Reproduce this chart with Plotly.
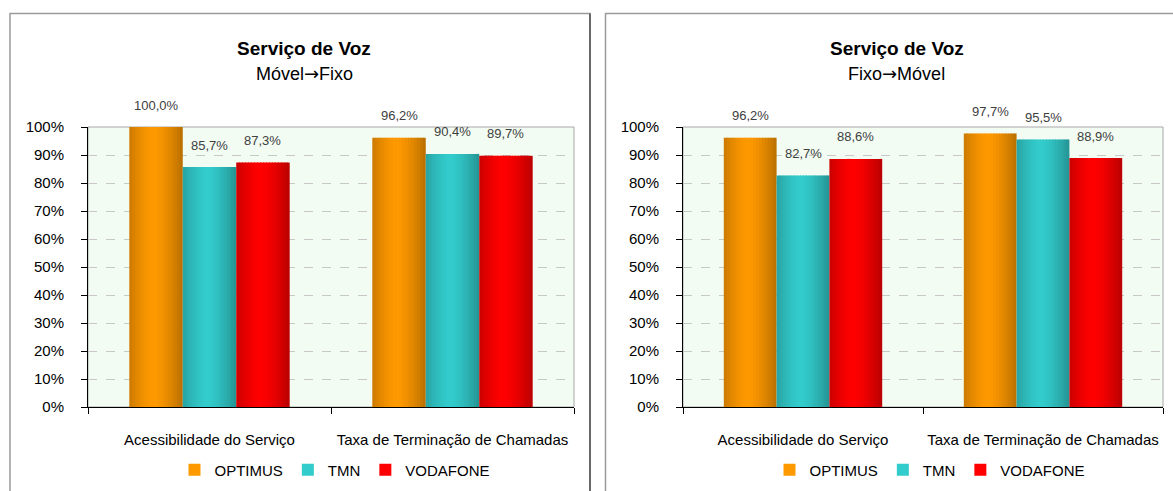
import plotly.graph_objects as go

# ---------------- data ----------------
categories = ["Acessibilidade do Serviço", "Taxa de Terminação de Chamadas"]
series_names = ["OPTIMUS", "TMN", "VODAFONE"]
movel_fixo = {"OPTIMUS": [1.000, 0.962], "TMN": [0.857, 0.904], "VODAFONE": [0.873, 0.897]}
fixo_movel = {"OPTIMUS": [0.962, 0.977], "TMN": [0.827, 0.955], "VODAFONE": [0.886, 0.889]}
titles = ["Serviço de Voz", "Serviço de Voz"]
subtitles = [("Móvel", "→", "Fixo"), ("Fixo", "→", "Móvel")]
y_ticks = [0, 0.1, 0.2, 0.3, 0.4, 0.5, 0.6, 0.7, 0.8, 0.9, 1.0]

# ---------------- style ----------------
W, H = 1173, 491
FONT = "Liberation Sans, Arial, sans-serif"
base_colors = {"OPTIMUS": (255, 153, 0), "TMN": (51, 204, 204), "VODAFONE": (255, 0, 0)}
BAR_W = 0.22
N_STRIPS = 18


def shade(rgb, t):
    d = abs(t - 0.45) / 0.55
    f = 1 - 0.28 * min(1.0, d) ** 1.5
    r, g, b = (int(round(c * f)) for c in rgb)
    return f"rgb({r},{g},{b})"


def px_x(p):
    return p / W


def px_y(p):
    return 1 - p / H


panels = [
    dict(data=movel_fixo, xa="x", ya="y", legend="legend",
         xdom=[px_x(88), px_x(574)], center=px_x(304)),
    dict(data=fixo_movel, xa="x2", ya="y2", legend="legend2",
         xdom=[px_x(683), px_x(1163)], center=px_x(897)),
]
ydom = [px_y(407), px_y(127)]

fig = go.Figure()
annotations = []

for pi, p in enumerate(panels):
    data = p["data"]
    for si, name in enumerate(series_names):
        vals = data[name]
        left = -1.5 * BAR_W + si * BAR_W
        sw = BAR_W / N_STRIPS
        legend_strip = int(N_STRIPS * 0.45)
        for k in range(N_STRIPS):
            t = (k + 0.5) / N_STRIPS
            width = sw * (1.35 if k < N_STRIPS - 1 else 1.0)
            fig.add_trace(go.Bar(
                x=categories, y=vals,
                xaxis=p["xa"], yaxis=p["ya"],
                offset=left + k * sw, width=width,
                marker=dict(color=shade(base_colors[name], t), line=dict(width=0)),
                name=name, legendgroup=f"{name}{pi}",
                showlegend=(k == legend_strip), legend=p["legend"],
                hoverinfo="skip",
            ))
        for ci, v in enumerate(vals):
            annotations.append(dict(
                x=ci + left + BAR_W / 2, y=v, xref=p["xa"], yref=p["ya"],
                text=f"{v*100:.1f}%".replace(".", ","), showarrow=False,
                xanchor="center", yanchor="middle", yshift=22,
                font=dict(family=FONT, size=13, color="#404040"),
            ))
    # titles
    annotations.append(dict(x=p["center"], y=px_y(48), xref="paper", yref="paper",
                            xanchor="center", yanchor="middle",
                            text=f"<b>{titles[pi]}</b>", showarrow=False,
                            font=dict(family=FONT, size=19, color="#000000")))
    a, arrow, b = subtitles[pi]
    annotations.append(dict(x=p["center"], y=px_y(73), xref="paper", yref="paper",
                            xanchor="center", yanchor="middle",
                            text=f"{a}<span style='font-family:DejaVu Sans'>{arrow}</span>{b}",
                            showarrow=False,
                            font=dict(family=FONT, size=18, color="#000000")))

axis_common_x = dict(
    type="category", range=[-0.5, 1.5], tickson="boundaries",
    ticks="outside", ticklen=6, tickcolor="#000000", tickangle=0,
    showline=True, linecolor="#000000", linewidth=1, automargin=False,
    showgrid=False, ticklabelstandoff=19,
    tickfont=dict(family=FONT, size=15, color="#000000"),
)
axis_common_y = dict(
    range=[0, 1], tickvals=y_ticks, tickformat=".0%",
    ticks="outside", ticklen=6, tickcolor="#000000", automargin=False,
    showline=True, linecolor="#000000", linewidth=1,
    showgrid=True, gridcolor="#C8C8C8", griddash="dash", gridwidth=1,
    zeroline=False, ticklabelstandoff=14,
    tickfont=dict(family=FONT, size=15, color="#000000"),
)

shapes = [
    # panel frames
    dict(type="rect", xref="paper", yref="paper", x0=px_x(10), x1=px_x(590),
         y0=px_y(500), y1=px_y(13.5), line=dict(color="#9a9a9a", width=1.5), layer="below"),
    dict(type="line", xref="paper", yref="paper", x0=px_x(590), x1=px_x(590),
         y0=px_y(500), y1=px_y(13.5), line=dict(color="#505050", width=1.5), layer="below"),
    dict(type="rect", xref="paper", yref="paper", x0=px_x(605.5), x1=px_x(1190),
         y0=px_y(500), y1=px_y(13.5), line=dict(color="#9a9a9a", width=1.5), layer="below"),
]
for xa, ya in (("x", "y"), ("x2", "y2")):
    shapes.append(dict(type="rect", xref=f"{xa} domain", yref=f"{ya} domain",
                       x0=0, x1=1, y0=0, y1=1, line=dict(color="#A8A8A8", width=1),
                       fillcolor="rgba(0,0,0,0)", layer="below"))

legend_common = dict(orientation="h", xanchor="center", yanchor="middle", y=px_y(470),
                     font=dict(family=FONT, size=15, color="#000000"),
                     bgcolor="rgba(0,0,0,0)", itemwidth=30, tracegroupgap=0,
                     traceorder="normal")

fig.update_layout(
    width=W, height=H, margin=dict(l=0, r=0, t=0, b=0, autoexpand=False),
    paper_bgcolor="#FFFFFF", plot_bgcolor="#F2FCF2",
    barmode="overlay", separators=",.",
    xaxis=dict(domain=panels[0]["xdom"], anchor="y", **axis_common_x),
    yaxis=dict(domain=ydom, anchor="x", **axis_common_y),
    xaxis2=dict(domain=panels[1]["xdom"], anchor="y2", **axis_common_x),
    yaxis2=dict(domain=ydom, anchor="x2", **axis_common_y),
    legend=dict(x=px_x(335), **legend_common),
    legend2=dict(x=px_x(930), **legend_common),
    annotations=annotations, shapes=shapes,
    font=dict(family=FONT),
)

fig.write_html("out.html")
